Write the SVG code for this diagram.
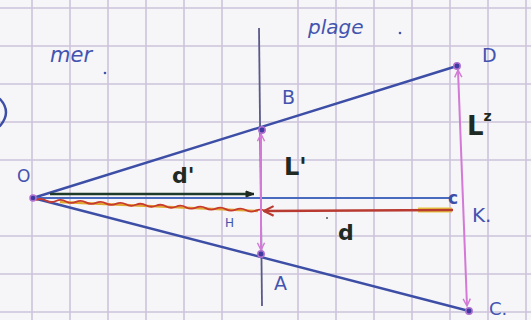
<svg xmlns="http://www.w3.org/2000/svg" width="531" height="320" viewBox="0 0 531 320">
<defs>
<style>
.grid{stroke:#cdc4dc;stroke-width:1.6}
.ink{stroke:#3d4ea6;stroke-width:2.4;fill:none;stroke-linecap:round}
.pink{stroke:#d27ad6;stroke-width:2;fill:none}
.lbl{font-family:"DejaVu Sans",sans-serif;fill:#4354b0}
.blk{font-family:"DejaVu Sans",sans-serif;font-weight:bold;fill:#1e2a22}
.pt{fill:#3d3aa0;stroke:#b070d0;stroke-width:1.5}
</style>
<marker id="pa" viewBox="0 0 10 10" refX="9" refY="5" markerWidth="9" markerHeight="9" orient="auto-start-reverse" markerUnits="userSpaceOnUse">
<path d="M1,1 L9,5 L1,9" fill="none" stroke="#d27ad6" stroke-width="1.6"/>
</marker>
<marker id="ra" viewBox="0 0 10 10" refX="9" refY="5" markerWidth="12" markerHeight="12" orient="auto" markerUnits="userSpaceOnUse">
<path d="M1,1 L9,5 L1,9" fill="none" stroke="#b83a30" stroke-width="1.8"/>
</marker>
<marker id="ga" viewBox="0 0 10 10" refX="9" refY="5" markerWidth="10" markerHeight="10" orient="auto" markerUnits="userSpaceOnUse">
<path d="M1,2 L9,5 L1,8 Z" fill="#1e2a22" stroke="#1e2a22" stroke-width="1"/>
</marker>
</defs>
<rect width="531" height="320" fill="#f6f5f7"/>
<g id="grid">
<path class="grid" d="M32,0V320M70,0V320M108,0V320M146,0V320M184,0V320M222,0V320M298,0V320M336,0V320M374,0V320M412,0V320M450,0V320M488,0V320M526,0V320"/>
<path class="grid" d="M0,8H531M0,46H531M0,84H531M0,122H531M0,160H531M0,236H531M0,274H531M0,312H531"/>
</g>
<g id="connectors">
<path d="M0,99 Q12,112 0,126" class="ink"/>
<line x1="259" y1="28" x2="262" y2="306" stroke="#5a5a8a" stroke-width="1.8"/>
<line x1="33" y1="198" x2="457" y2="66" class="ink"/>
<line x1="33" y1="198" x2="469" y2="311" class="ink"/>
<line x1="36" y1="198" x2="452" y2="198" stroke="#4a6ac0" stroke-width="2.2"/>
<line x1="50" y1="194" x2="254" y2="194" stroke="#1e3a2a" stroke-width="2.6" marker-end="url(#ga)"/>
<line x1="60" y1="202" x2="258" y2="211" stroke="#e0a830" stroke-width="2.4"/>
<path d="M36,200 q5,-2.5 10,0 q5,2.5 10,0 q5,-2.5 10,0 q5,2.5 10,0 q5,-2.5 10,0 q5,2.5 10,0 q5,-2.5 10,0 q5,2.5 10,0 q5,-2.5 10,0 q5,2.5 10,0 q5,-2.5 10,0 q5,2.5 10,0 q5,-2.5 10,0 q5,2.5 10,0 q5,-2.5 10,0 q5,2.5 10,0 q5,-2.5 10,0 q5,2.5 10,0 q5,-2.5 10,0 q5,2.5 10,0 q5,-2.5 10,0 q5,2.5 10,0 q5,-2.5 10,0" fill="none" stroke="#c83a2e" stroke-width="1.8" transform="rotate(2.75 36 200)"/>
<line x1="418" y1="210" x2="452" y2="210" stroke="#e8c840" stroke-width="5"/>
<line x1="453" y1="210" x2="264" y2="211" stroke="#b83a30" stroke-width="2.4" marker-end="url(#ra)"/>
<line x1="261" y1="134" x2="261" y2="250" class="pink" marker-start="url(#pa)" marker-end="url(#pa)"/>
<line x1="458" y1="70" x2="467" y2="306" class="pink" marker-start="url(#pa)" marker-end="url(#pa)"/>
</g>
<g id="O"><circle cx="33" cy="198" r="3" class="pt"/><text x="17" y="182" class="lbl" font-size="17">O</text></g>
<g id="B"><circle cx="262" cy="130" r="3.2" class="pt"/><text x="282" y="104" class="lbl" font-size="19">B</text></g>
<g id="D"><circle cx="457" cy="66" r="3.2" class="pt"/><text x="482" y="62" class="lbl" font-size="19">D</text></g>
<g id="A"><circle cx="261" cy="254" r="3.2" class="pt"/><text x="274" y="290" class="lbl" font-size="19">A</text></g>
<g id="C"><circle cx="469" cy="311" r="3.2" class="pt"/><text x="489" y="315" class="lbl" font-size="18">C.</text></g>
<g id="H"><text x="225" y="227" class="lbl" font-size="12">H</text></g>
<g id="K"><text x="448" y="204" fill="#3d4ea6" font-family="DejaVu Sans,sans-serif" font-size="17" font-weight="bold">c</text><text x="472" y="222" class="lbl" font-size="20">K.</text></g>
<g id="labels">
<text x="50" y="62" class="lbl" font-size="21" font-style="italic">mer</text>
<circle cx="105" cy="73" r="1.3" fill="#4354b0"/>
<text x="308" y="34" class="lbl" font-size="20" font-style="italic">plage</text>
<circle cx="400" cy="33" r="1.3" fill="#4354b0"/>
<text x="172" y="183" class="blk" font-size="22">d'</text>
<text x="284" y="175" class="blk" font-size="24">L'</text>
<text x="467" y="135" class="blk" font-size="26">L<tspan font-size="14" dy="-14">z</tspan></text>
<text x="338" y="240" class="blk" font-size="22">d</text>
<circle cx="327" cy="218" r="1" fill="#555"/>
</g>
</svg>
